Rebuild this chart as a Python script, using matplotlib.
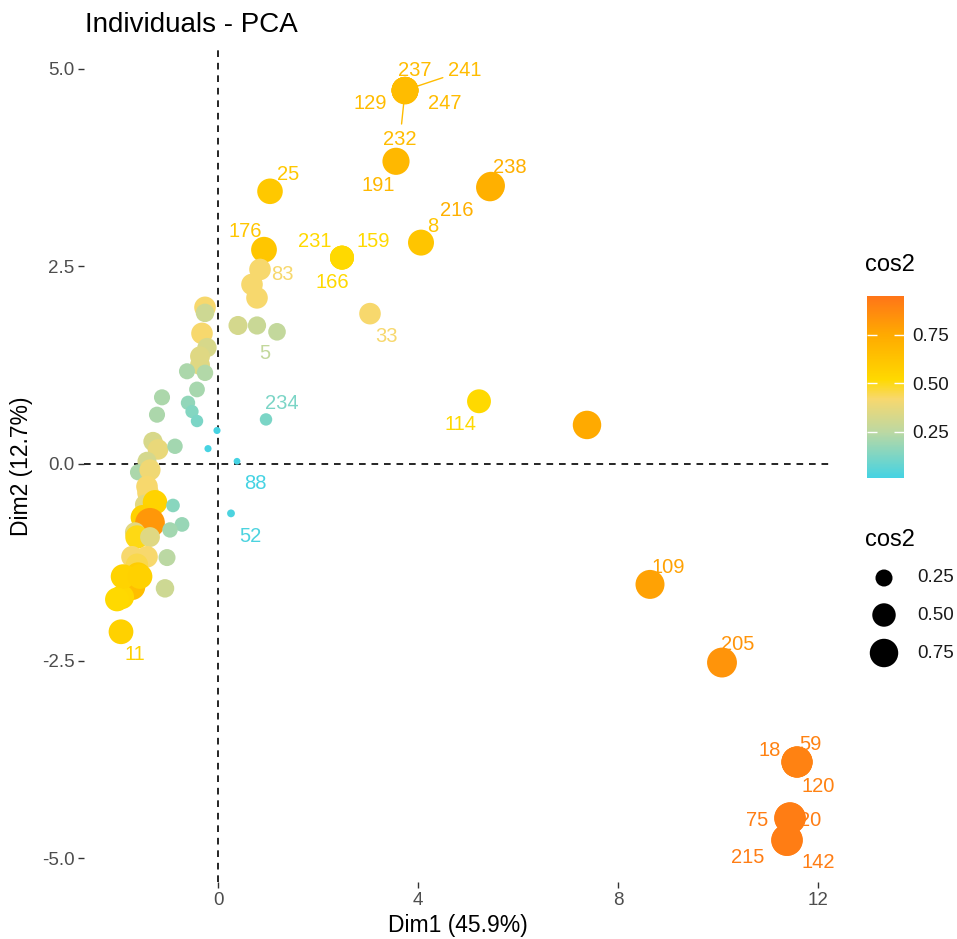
import matplotlib
matplotlib.use('Agg')
import matplotlib.pyplot as plt
import numpy as np
from matplotlib.colors import LinearSegmentedColormap, Normalize
from matplotlib.cm import ScalarMappable

plt.rcParams['font.family'] = ['Liberation Sans', 'DejaVu Sans']

# labelled individuals (several share one spot)
lab_names = ['237', '241', '129', '247', '232', '191', '238', '216', '25', '176',
             '83', '231', '159', '166', '8', '33', '5', '234', '114', '88',
             '52', '109', '205', '18', '59', '120', '75', '20', '215', '142', '11']
lab_x = [3.74, 3.74, 3.74, 3.74, 3.74, 3.56, 5.46, 5.44, 1.04, 0.92,
         0.84, 2.48, 2.48, 2.48, 4.06, 3.04, 1.18, 0.96, 5.22, 0.38,
         0.26, 8.64, 10.08, 11.58, 11.58, 11.58, 11.44, 11.44, 11.38, 11.38, -1.94]
lab_y = [4.73, 4.73, 4.73, 4.73, 4.72, 3.83, 3.52, 3.50, 3.45, 2.71,
         2.46, 2.61, 2.61, 2.61, 2.80, 1.90, 1.67, 0.56, 0.79, 0.03,
         -0.63, -1.53, -2.52, -3.78, -3.78, -3.78, -4.49, -4.49, -4.77, -4.77, -2.13]
lab_cos2 = [0.66, 0.66, 0.66, 0.66, 0.66, 0.68, 0.72, 0.72, 0.60, 0.61,
            0.42, 0.52, 0.52, 0.52, 0.62, 0.42, 0.27, 0.12, 0.52, 0.015,
            0.03, 0.78, 0.83, 0.90, 0.90, 0.90, 0.92, 0.92, 0.92, 0.92, 0.56]

# unlabelled individuals
x_other = [7.38, -0.26, -0.26, -0.32, -0.22, -0.36, -0.36, 0.40, 0.78, 0.68, 0.78,
           -0.62, -0.26, -0.42, -1.12, -1.22, -0.60, -0.52, -0.42, -0.02, -0.20,
           -1.30, -1.20, -0.86, -1.42, -1.60, -1.36, -1.42, -1.40, -1.46, -1.26,
           -0.90, -1.50, -1.36, -0.72, -0.96, -1.66, -1.62, -1.36, -1.02, -1.72,
           -1.42, -1.62, -1.60, -1.86, -1.72, -1.92, -1.06, -1.90, -1.56, -2.02]
y_other = [0.49, 1.98, 1.91, 1.65, 1.47, 1.36, 1.25, 1.75, 1.75, 2.27, 2.10,
           1.17, 1.15, 0.94, 0.84, 0.62, 0.77, 0.66, 0.54, 0.42, 0.19,
           0.28, 0.18, 0.22, 0.03, -0.11, -0.08, -0.29, -0.37, -0.52, -0.49,
           -0.53, -0.68, -0.75, -0.77, -0.84, -0.87, -0.93, -0.93, -1.19, -1.18,
           -1.18, -1.28, -1.41, -1.44, -1.56, -1.69, -1.58, -1.43, -1.43, -1.72]
cos2_other = [0.75, 0.42, 0.30, 0.42, 0.33, 0.35, 0.35, 0.32, 0.29, 0.42, 0.42,
              0.22, 0.23, 0.21, 0.22, 0.22, 0.17, 0.14, 0.12, 0.02, 0.02,
              0.33, 0.38, 0.20, 0.32, 0.22, 0.40, 0.42, 0.42, 0.36, 0.55,
              0.15, 0.56, 0.82, 0.18, 0.20, 0.36, 0.50, 0.35, 0.25, 0.42,
              0.42, 0.45, 0.58, 0.52, 0.65, 0.53, 0.30, 0.55, 0.56, 0.52]

# label offsets (pixels, right / down) -- layout only
lab_off = [(10, -20), (60, -20), (-35, 13), (40, 13), (-5, 48), (-18, 24), (19, -18),
           (-33, 23), (18, -17), (-19, -18), (22, 5), (-27, -16), (31, -16), (-10, 25),
           (12, -16), (16, 23), (-12, 22), (16, -16), (-19, 23), (18, 22), (19, 23),
           (18, -17), (16, -18), (-27, -12), (13, -18), (21, 24), (-33, 2), (20, 2),
           (-39, 17), (31, 22), (14, 23)]
leader = {'241', '232'}

vmin, vmax = 0.013, 0.95
stops = [(0.013, '#45D3E3'), (0.25, '#BCD8A2'), (0.42, '#F7D86E'), (0.52, '#FFD900'),
         (0.75, '#FFAA00'), (0.95, '#FF7518')]
cmap = LinearSegmentedColormap.from_list(
    'cos2', [((v - vmin) / (vmax - vmin), c) for v, c in stops])
norm = Normalize(vmin, vmax)


def msize(c):
    d = np.sqrt(30 + 1040 * np.asarray(c))  # diameter in pixels
    return (d * 0.72) ** 2


W, H = 957, 939
fig = plt.figure(figsize=(W / 100, H / 100), dpi=100)
ax = fig.add_axes([84 / W, 1 - 882 / H, (832 - 84) / W, (882 - 50) / H])

ax.axhline(0, color='black', ls=(0, (4, 3.5)), lw=1.2, zorder=1)
ax.axvline(0, color='black', ls=(0, (4, 3.5)), lw=1.2, zorder=1)

all_x = np.array(x_other + lab_x)
all_y = np.array(y_other + lab_y)
all_c = np.array(cos2_other + lab_cos2)
ax.scatter(all_x, all_y, s=msize(all_c), c=all_c, cmap=cmap, norm=norm,
           linewidths=0, zorder=2)

for name, x, y, c, (dx, dy) in zip(lab_names, lab_x, lab_y, lab_cos2, lab_off):
    col = cmap(norm(c))
    props = dict(arrowstyle='-', color=col, lw=1, shrinkA=2, shrinkB=9) if name in leader else None
    ax.annotate(name, (x, y), xytext=(dx * 0.72, -dy * 0.72), textcoords='offset points',
                ha='center', va='center', fontsize=14.5, color=col, zorder=3,
                arrowprops=props)

ax.set_xlim(-2.68, 12.28)
ax.set_ylim(-5.30, 5.24)
ax.set_xticks([0, 4, 8, 12])
ax.set_yticks([-5, -2.5, 0, 2.5, 5])
ax.set_yticklabels(['-5.0', '-2.5', '0.0', '2.5', '5.0'])
for s in ax.spines.values():
    s.set_visible(False)
ax.tick_params(length=4, width=1, color='#333333', labelcolor='#4D4D4D', labelsize=13.5, pad=3)
ax.set_xlabel('Dim1 (45.9%)', fontsize=16.5, labelpad=4)
ax.set_ylabel('Dim2 (12.7%)', fontsize=16.5, labelpad=6)
fig.text(85 / W, 1 - 25 / H, 'Individuals - PCA', fontsize=20, va='center', ha='left')

# colour bar
cax = fig.add_axes([867 / W, 1 - 478 / H, 37 / W, 182 / H])
sm = ScalarMappable(norm=norm, cmap=cmap)
cb = fig.colorbar(sm, cax=cax, ticks=[0.25, 0.5, 0.75])
cb.outline.set_visible(False)
cb.set_ticklabels(['0.25', '0.50', '0.75'])
cax.tick_params(axis='y', direction='in', color='white', length=7, width=1,
                left=True, right=True, labelsize=13.5, labelcolor='#1A1A1A', pad=6)
fig.text(865 / W, 1 - 265 / H, 'cos2', fontsize=17, va='center', ha='left')

# size legend
lax = fig.add_axes([0, 0, 1, 1])
lax.set_xlim(0, W)
lax.set_ylim(H, 0)
lax.axis('off')
leg_vals = [0.25, 0.50, 0.75]
leg_y = [578, 615, 653]
lax.scatter([884] * 3, leg_y, s=msize(leg_vals), c='black', linewidths=0)
for v, yy in zip(leg_vals, leg_y):
    lax.text(917, yy, '%.2f' % v, fontsize=13.5, va='center', ha='left', color='#1A1A1A')
lax.text(865, 540, 'cos2', fontsize=17, va='center', ha='left')

fig.savefig('out.png', dpi=100)
